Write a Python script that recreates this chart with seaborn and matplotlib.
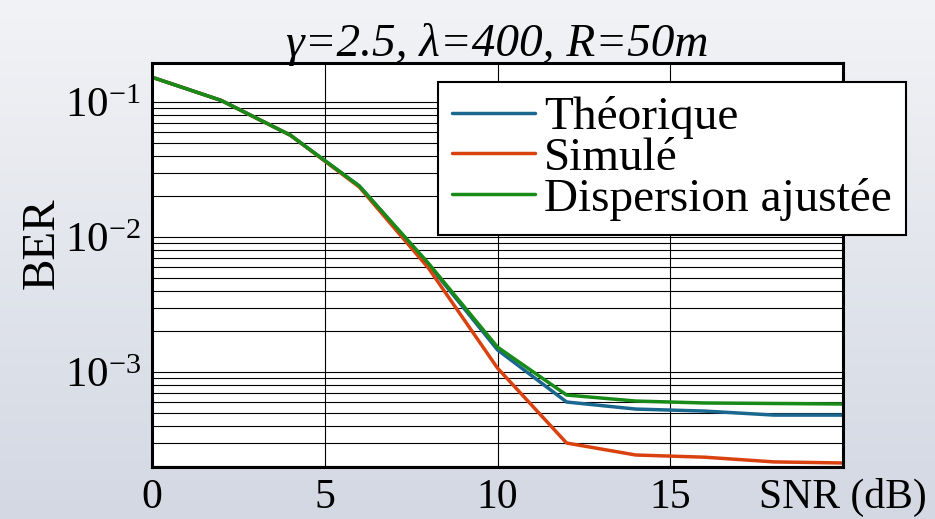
import numpy as np
import pandas as pd
import matplotlib
matplotlib.use("Agg")
import matplotlib.pyplot as plt
import matplotlib.ticker as mticker
import seaborn as sns

# données
snr = [0, 2, 4, 6, 8, 10, 12, 14, 16, 18, 20]
ber_theorique = [0.153, 0.103, 0.057, 0.0239, 0.0063, 1.46e-3, 6.0e-4, 5.32e-4, 5.14e-4, 4.8e-4, 4.8e-4]
ber_simule = [0.153, 0.103, 0.057, 0.0235, 0.0059, 1.07e-3, 2.98e-4, 2.43e-4, 2.34e-4, 2.16e-4, 2.12e-4]
ber_ajustee = [0.153, 0.103, 0.057, 0.0239, 0.0064, 1.53e-3, 6.76e-4, 6.1e-4, 5.9e-4, 5.85e-4, 5.8e-4]
noms = ['Théorique', 'Simulé', 'Dispersion ajustée']
couleurs = ['#1a6790', '#d9420f', '#188a18']
xticks = [0, 5, 10, 15, 20]
xlabels = ['0', '5', '10', '15', 'SNR (dB)']

df = pd.DataFrame({
    'SNR': snr * 3,
    'BER': ber_theorique + ber_simule + ber_ajustee,
    'Courbe': [noms[0]] * len(snr) + [noms[1]] * len(snr) + [noms[2]] * len(snr),
})

sns.set_theme(style='white')
plt.rcParams['font.family'] = ['Liberation Serif', 'DejaVu Serif']
plt.rcParams['text.color'] = 'black'
plt.rcParams['mathtext.fontset'] = 'custom'
plt.rcParams['mathtext.rm'] = 'Liberation Serif'
plt.rcParams['mathtext.it'] = 'Liberation Serif:italic'

fig = plt.figure(figsize=(9.35, 5.19), dpi=100)

# fond dégradé
fond = fig.add_axes([0, 0, 1, 1], zorder=-1)
grad = np.linspace(0, 1, 256).reshape(-1, 1)
cmap = matplotlib.colors.LinearSegmentedColormap.from_list('fond', ['#f2f3f6', '#d3d8e3'])
fond.imshow(grad, aspect='auto', cmap=cmap, extent=[0, 1, 0, 1])
fond.axis('off')

ax = fig.add_axes([0.1626, 0.1002, 0.739, 0.7784])
ax.set_facecolor('white')

sns.lineplot(data=df, x='SNR', y='BER', hue='Courbe', hue_order=noms,
             palette=couleurs, linewidth=2.5, ax=ax, legend=True)

ax.set_yscale('log')
ax.set_xlim(0, 20)
ax.set_ylim(1.98e-4, 0.195)

ax.yaxis.set_major_locator(mticker.LogLocator(base=10))
ax.yaxis.set_minor_locator(mticker.LogLocator(base=10, subs=np.arange(2, 10)))
ax.yaxis.set_minor_formatter(mticker.NullFormatter())
ax.yaxis.set_major_formatter(mticker.FuncFormatter(
    lambda v, p: r'$\mathregular{10^{%d}}$' % round(np.log10(v))))

ax.set_xticks(xticks)
ax.set_xticklabels(xlabels)
ax.tick_params(axis='both', which='both', length=0, labelsize=31, colors='black')
ax.tick_params(axis='x', pad=8, labelsize=30)
ax.tick_params(axis='y', pad=8)

ax.grid(True, which='major', axis='both', color='black', linewidth=0.8)
ax.grid(True, which='minor', axis='y', color='black', linewidth=0.8)

for s in ax.spines.values():
    s.set_color('black')
    s.set_linewidth(2.2)

ax.set_xlabel('')
ax.set_ylabel('BER', fontsize=34, color='black')
ax.yaxis.set_label_coords(-0.128, 0.554)

ax.set_title('γ=2.5, λ=400, R=50m', fontsize=34, fontstyle='italic',
             family='Liberation Serif', color='black', pad=5)

handles, labels = ax.get_legend_handles_labels()
leg = ax.legend(handles, labels, loc='upper left', bbox_to_anchor=(0.414, 0.953),
                borderaxespad=0, fontsize=34, frameon=True, fancybox=False,
                framealpha=1, edgecolor='black', handlelength=1.75,
                handletextpad=0.2, labelspacing=-0.05, borderpad=0.3)
leg.get_frame().set_linewidth(1.5)
for t in leg.get_texts():
    t.set_color('black')
for h in leg.get_lines():
    h.set_linewidth(2.5)

plt.savefig('out.png', dpi=100)
